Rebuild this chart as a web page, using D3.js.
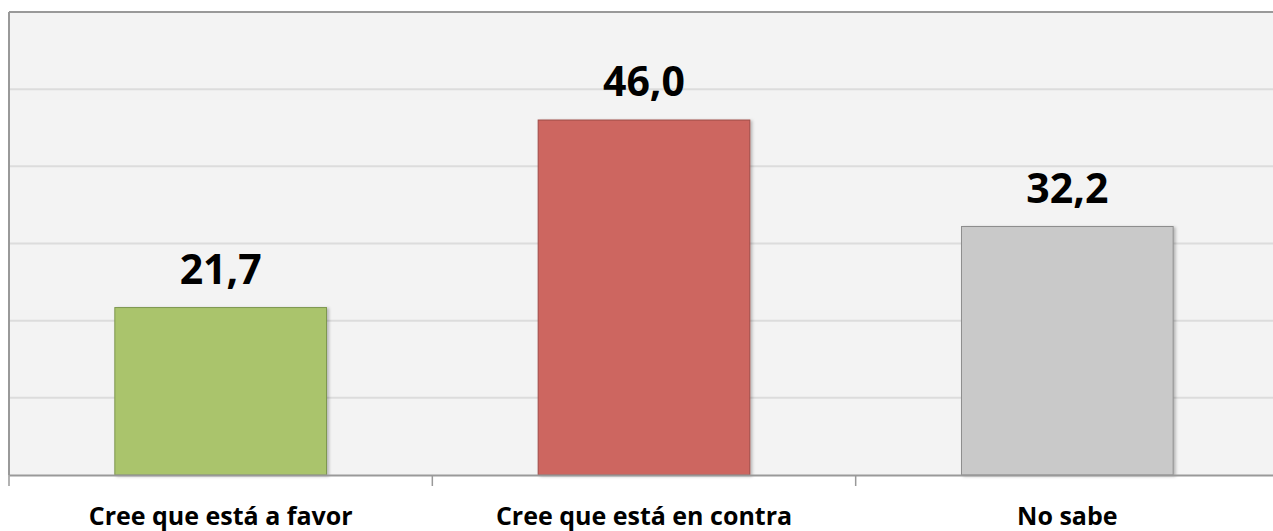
<!DOCTYPE html>
<html>
<head>
<meta charset="utf-8">
<script src="https://cdn.jsdelivr.net/npm/d3@7"></script>
<style>
  body { margin: 0; background: #fff; }
  svg { display: block; font-family: "Open Sans", sans-serif; }
</style>
</head>
<body>
<svg id="chart" width="1273" height="531"></svg>
<script>
// data
const categories = ["Cree que está a favor", "Cree que está en contra", "No sabe"];
const values = [21.7, 46.0, 32.2];
const fills = ["#AAC46C", "#CD6660", "#C9C9C9"];
const strokes = ["#7E9850", "#9E4A45", "#8E8E8E"];
const yTicks = [0, 10, 20, 30, 40, 50, 60];

const svg = d3.select('#chart');
const plotL = 9, plotT = 12, plotB = 475, plotR = 1279;

const x = d3.scaleBand().domain(categories).range([plotL, plotR]).paddingInner(0.5).paddingOuter(0.25);
const band = d3.scaleBand().domain(categories).range([plotL, plotR]);
const y = d3.scaleLinear().domain([0, 60]).range([plotB, plotT]);

// shadow for bars
const defs = svg.append('defs');
const f = defs.append('filter').attr('id', 'sh').attr('x', '-10%').attr('y', '-10%').attr('width', '130%').attr('height', '130%');
f.append('feDropShadow').attr('dx', 2).attr('dy', 1).attr('stdDeviation', 1.5).attr('flood-color', '#000').attr('flood-opacity', 0.25);

// plot background
svg.append('rect').attr('x', plotL).attr('y', plotT).attr('width', plotR - plotL).attr('height', plotB - plotT).attr('fill', '#F3F3F3');

// gridlines
svg.append('g').selectAll('line').data(yTicks.slice(1, -1)).enter().append('line')
  .attr('x1', plotL).attr('x2', plotR)
  .attr('y1', d => y(d)).attr('y2', d => y(d))
  .attr('stroke', '#DCDCDC').attr('stroke-width', 2);

// border top + left
svg.append('line').attr('x1', plotL).attr('x2', plotR).attr('y1', plotT).attr('y2', plotT).attr('stroke', '#999').attr('stroke-width', 2);
svg.append('line').attr('x1', plotL).attr('x2', plotL).attr('y1', plotT).attr('y2', plotB).attr('stroke', '#999').attr('stroke-width', 2);

// bars
svg.append('g').selectAll('rect').data(values).enter().append('rect')
  .attr('x', (d, i) => x(categories[i]))
  .attr('y', d => y(d))
  .attr('width', x.bandwidth())
  .attr('height', d => plotB - y(d))
  .attr('fill', (d, i) => fills[i])
  .attr('stroke', (d, i) => strokes[i])
  .attr('stroke-width', 1)
  .attr('filter', 'url(#sh)');

// x axis
const xAxis = svg.append('g').attr('transform', `translate(0,${plotB})`)
  .call(d3.axisBottom(band).tickSize(0).tickFormat(''));
xAxis.select('.domain').attr('stroke', '#999').attr('stroke-width', 2);
xAxis.selectAll('.tick').remove();
const bounds = categories.map(c => band(c)).concat([plotR]);
xAxis.selectAll('line.sep').data(bounds).enter().append('line')
  .attr('class', 'sep')
  .attr('x1', d => d).attr('x2', d => d)
  .attr('y1', 0).attr('y2', 11)
  .attr('stroke', '#999').attr('stroke-width', 1.5);

// category labels
svg.append('g').selectAll('text').data(categories).enter().append('text')
  .attr('x', d => band(d) + band.bandwidth() / 2)
  .attr('y', 525)
  .attr('text-anchor', 'middle')
  .attr('font-size', 25)
  .attr('font-weight', 'bold')
  .attr('fill', '#000')
  .text(d => d);

// value labels
svg.append('g').selectAll('text').data(values).enter().append('text')
  .attr('x', (d, i) => x(categories[i]) + x.bandwidth() / 2)
  .attr('y', d => y(d) - 24)
  .attr('text-anchor', 'middle')
  .attr('font-size', 41)
  .attr('font-weight', 'bold')
  .attr('fill', '#000')
  .text(d => d.toFixed(1).replace('.', ','));
</script>
</body>
</html>
